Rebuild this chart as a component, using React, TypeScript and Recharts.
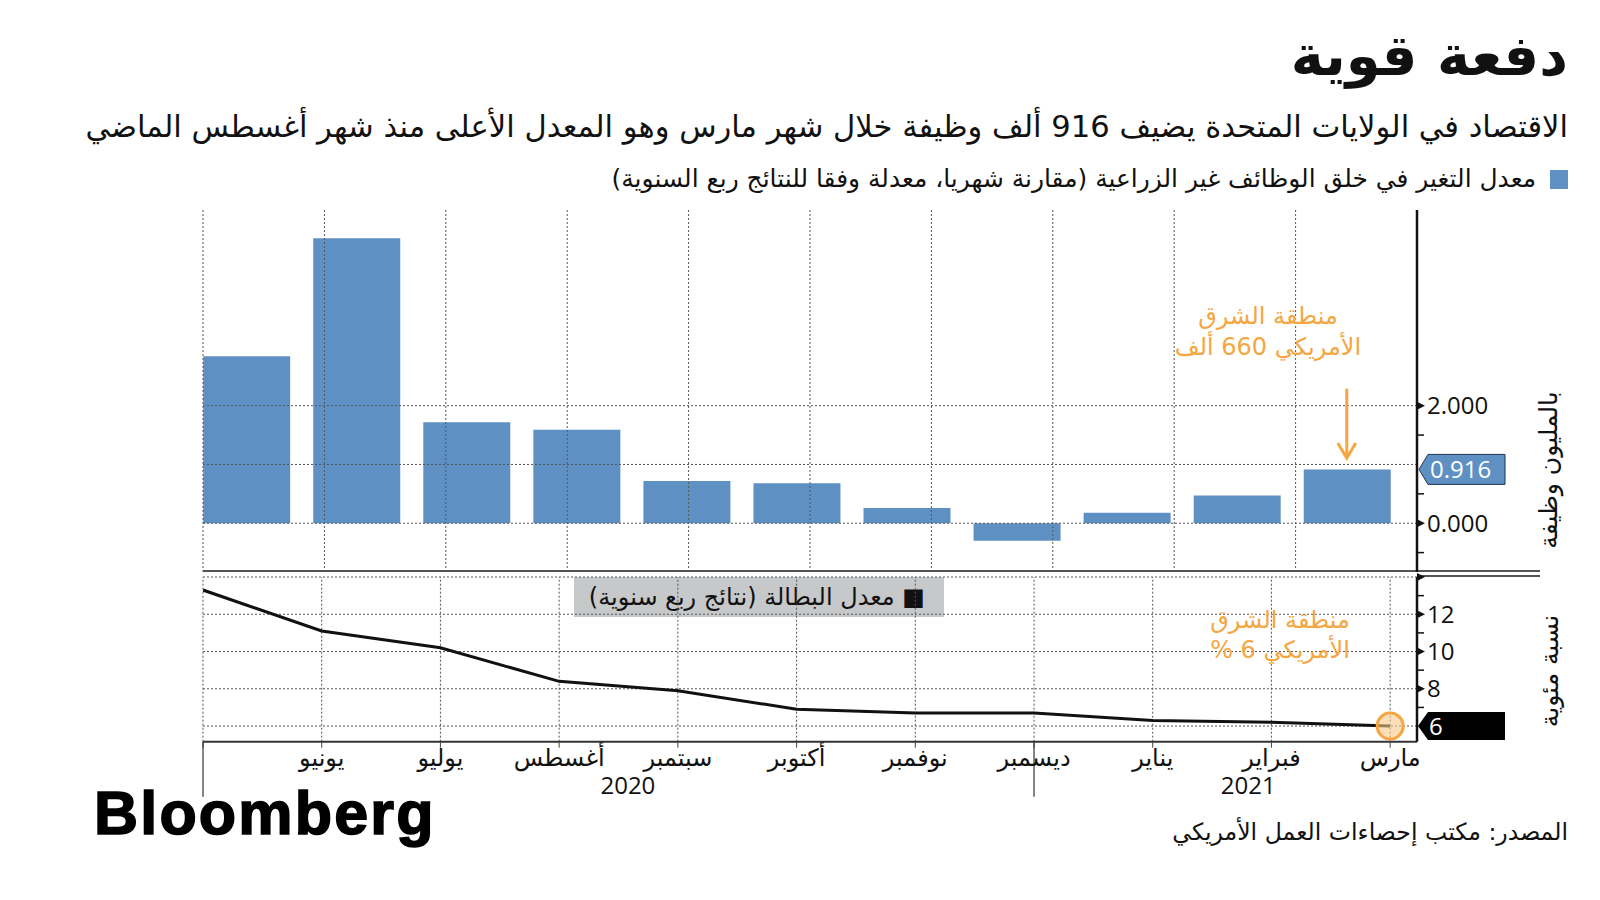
import React from 'react';
import {
  BarChart,
  Bar,
  LineChart,
  Line,
  XAxis,
  YAxis,
  ReferenceLine,
  ReferenceDot,
} from 'recharts';

// monthly data, May 2020 -> March 2021
const months = ['مايو', 'يونيو', 'يوليو', 'أغسطس', 'سبتمبر', 'أكتوبر', 'نوفمبر', 'ديسمبر', 'يناير', 'فبراير', 'مارس'];
const monthLabels = ['', 'يونيو', 'يوليو', 'أغسطس', 'سبتمبر', 'أكتوبر', 'نوفمبر', 'ديسمبر', 'يناير', 'فبراير', 'مارس'];
const monthIdx = [0, 1, 2, 3, 4, 5, 6, 7, 8, 9, 10];

// nonfarm payrolls change, millions
const payrolls = [2.84, 4.85, 1.72, 1.59, 0.72, 0.68, 0.26, -0.3, 0.18, 0.47, 0.916];
// unemployment rate, %
const unemployment = [13.3, 11.1, 10.2, 8.4, 7.9, 6.9, 6.7, 6.7, 6.3, 6.2, 6.0];

const payrollTicks = [-0.5, 0, 0.5, 0.916, 1.5, 2];
const payrollLabelled = [0, 2];
const payrollGrid = [0, 1, 2];
const rateTicks = [6, 7, 8, 9, 10, 11, 12, 13, 14];
const rateLabelled = [8, 10, 12];
const rateGrid = [6, 8, 10, 12, 14];

const yearStarts = [0, 7];
const years = ['2020', '2021'];
const yearCenters = [3.5, 8.61];

const BLUE = '#5f90c4';
const ORANGE = '#f5a640';
const AR = "'DejaVu Sans', sans-serif";
const NUM = "'Open Sans', 'DejaVu Sans', sans-serif";

const barData = payrolls.map((v, i) => ({ i, month: months[i], v }));
const lineData = unemployment.map((rate, m) => ({ m, rate, month: months[m] }));
const lastPayroll = payrolls[payrolls.length - 1];
const lastRate = unemployment[unemployment.length - 1];

const PayrollTick = (props: any) => {
  const { x, y, payload } = props;
  const v = payload.value;
  if (v === lastPayroll) {
    return (
      <g>
        <polygon
          points={`${x + 2},${y} ${x + 11},${y - 15} ${x + 88},${y - 15} ${x + 88},${y + 15} ${x + 11},${y + 15}`}
          fill={BLUE}
          stroke="#1d3550"
          strokeWidth={1}
        />
        <text x={x + 13} y={y} dy="0.36em" fill="#fff" fontFamily={NUM} fontSize={24}>
          {v.toFixed(3)}
        </text>
      </g>
    );
  }
  if (payrollLabelled.includes(v)) {
    return (
      <g>
        <polygon points={`${x},${y - 4} ${x + 8},${y} ${x},${y + 4}`} fill="#111" />
        <text x={x + 10} y={y} dy="0.36em" fill="#111" fontFamily={NUM} fontSize={24}>
          {v.toFixed(3)}
        </text>
      </g>
    );
  }
  return <line x1={x} x2={x + 7} y1={y} y2={y} stroke="#111" strokeWidth={1.5} />;
};

const RateTick = (props: any) => {
  const { x, y, payload } = props;
  const v = payload.value;
  if (v === lastRate) {
    return (
      <g>
        <polygon
          points={`${x + 1},${y} ${x + 11},${y - 14} ${x + 88},${y - 14} ${x + 88},${y + 14} ${x + 11},${y + 14}`}
          fill="#000"
        />
        <text x={x + 12} y={y} dy="0.36em" fill="#fff" fontFamily={NUM} fontSize={24}>
          {v}
        </text>
      </g>
    );
  }
  if (rateLabelled.includes(v) || v === 14) {
    return (
      <g>
        <polygon points={`${x},${y - 4} ${x + 8},${y} ${x},${y + 4}`} fill="#111" />
        {rateLabelled.includes(v) && (
          <text x={x + 10} y={y} dy="0.36em" fill="#111" fontFamily={NUM} fontSize={24}>
            {v}
          </text>
        )}
      </g>
    );
  }
  return <line x1={x} x2={x + 7} y1={y} y2={y} stroke="#111" strokeWidth={1.5} />;
};

const MonthTick = (props: any) => {
  const { x, y, payload } = props;
  const i = payload.value;
  return (
    <g>
      {yearStarts.includes(i) && (
        <line x1={x} x2={x} y1={y - 8} y2={y + 47} stroke="#333" strokeWidth={1.2} />
      )}
      <text x={x} y={y + 16} textAnchor="middle" fill="#111" fontFamily={AR} fontSize={24}>
        {monthLabels[i]}
      </text>
    </g>
  );
};

const YearTick = (props: any) => {
  const { x, y, index } = props;
  return (
    <text x={x} y={y + 12} textAnchor="middle" fill="#111" fontFamily={NUM} fontSize={24}>
      {years[index]}
    </text>
  );
};

const DownArrow = (props: any) => {
  const { x1, y1, x2, y2 } = props;
  return (
    <g>
      <line x1={x1} y1={y1} x2={x2} y2={y2 - 2} stroke={ORANGE} strokeWidth={3} />
      <polyline
        points={`${x2 - 9},${y2 - 15} ${x2},${y2} ${x2 + 9},${y2 - 15}`}
        fill="none"
        stroke={ORANGE}
        strokeWidth={3}
      />
    </g>
  );
};

const abs = (style: React.CSSProperties): React.CSSProperties => ({ position: 'absolute', ...style });

const App: React.FC = () => {
  return (
    <div style={abs({ left: 0, top: 0, width: 1600, height: 900, background: '#fff', overflow: 'hidden' })}>
      {/* headings */}
      <div
        style={abs({
          right: 32, top: 20, direction: 'rtl', fontFamily: AR, fontWeight: 700,
          fontSize: 56, lineHeight: '72px', color: '#111', whiteSpace: 'nowrap',
        })}
      >
        دفعة قوية
      </div>
      <div
        style={abs({
          right: 32, top: 106, direction: 'rtl', fontFamily: AR, fontSize: 30.6,
          lineHeight: '42px', color: '#111', whiteSpace: 'nowrap',
        })}
      >
        الاقتصاد في الولايات المتحدة يضيف 916 ألف وظيفة خلال شهر مارس وهو المعدل الأعلى منذ شهر أغسطس الماضي
      </div>
      <div style={abs({ left: 1550, top: 170, width: 18, height: 19, background: BLUE })} />
      <div
        style={abs({
          right: 64, top: 163, direction: 'rtl', fontFamily: AR, fontSize: 24.9,
          lineHeight: '32px', color: '#111', whiteSpace: 'nowrap',
        })}
      >
        معدل التغير في خلق الوظائف غير الزراعية (مقارنة شهريا، معدلة وفقا للنتائج ربع السنوية)
      </div>

      {/* panel separators */}
      <div style={abs({ left: 203, top: 570, width: 1337, height: 2, background: '#555' })} />
      <div style={abs({ left: 1417, top: 575, width: 123, height: 1.5, background: '#555' })} />

      {/* unemployment legend box (sits under the gridlines) */}
      <div
        style={abs({
          left: 574, top: 577, width: 370, height: 40, background: '#c6c8ca', direction: 'rtl',
          boxSizing: 'border-box', paddingRight: 19, fontFamily: AR, fontSize: 24,
          lineHeight: '40px', color: '#111', whiteSpace: 'nowrap',
        })}
      >
        ■ معدل البطالة (نتائج ربع سنوية)
      </div>

      {/* payrolls panel */}
      <div style={abs({ left: 0, top: 0 })}>
        <BarChart
          width={1600}
          height={572}
          data={barData}
          margin={{ top: 210, right: 103, left: 203, bottom: 0 }}
        >
          <XAxis xAxisId="bar" dataKey="i" type="number" domain={[-0.3925, 10.638]} allowDataOverflow hide />
          <XAxis xAxisId="m" type="number" domain={[0, 10.226]} allowDataOverflow hide />
          <YAxis
            orientation="right"
            width={80}
            type="number"
            domain={[-0.83, 5.33]}
            allowDataOverflow
            ticks={payrollTicks}
            interval={0}
            axisLine={{ stroke: '#111', strokeWidth: 2.5 }}
            tickLine={false}
            tickSize={0}
            tickMargin={0}
            tick={(p: any) => <PayrollTick {...p} />}
          />
          {monthIdx.map((m) => (
            <ReferenceLine key={`v${m}`} xAxisId="m" x={m} stroke="#555" strokeDasharray="2 2" />
          ))}
          {payrollGrid.map((g) => (
            <ReferenceLine key={`h${g}`} xAxisId="bar" y={g} stroke="#555" strokeDasharray="2 2" />
          ))}
          <Bar xAxisId="bar" dataKey="v" fill={BLUE} barSize={87} isAnimationActive={false} />
          <ReferenceLine
            xAxisId="bar"
            segment={[{ x: 10, y: 2.29 }, { x: 10, y: 1.11 }]}
            shape={(p: any) => <DownArrow {...p} />}
          />
        </BarChart>
      </div>

      {/* unemployment panel */}
      <div style={abs({ left: 0, top: 0 })}>
        <LineChart
          width={1600}
          height={900}
          data={lineData}
          margin={{ top: 577, right: 103, left: 203, bottom: 78.3 }}
        >
          <XAxis
            dataKey="m"
            type="number"
            domain={[0, 10.226]}
            allowDataOverflow
            ticks={monthIdx}
            interval={0}
            height={40}
            axisLine={{ stroke: '#333', strokeWidth: 2 }}
            tickLine={{ stroke: '#444' }}
            tickSize={6}
            tick={(p: any) => <MonthTick {...p} />}
          />
          <XAxis
            xAxisId="yr"
            type="number"
            domain={[0, 10.226]}
            allowDataOverflow
            ticks={yearCenters}
            interval={0}
            height={40}
            axisLine={false}
            tickLine={false}
            tickSize={0}
            tickMargin={0}
            tick={(p: any) => <YearTick {...p} />}
          />
          <YAxis
            orientation="right"
            width={80}
            type="number"
            domain={[5.16, 14]}
            allowDataOverflow
            ticks={rateTicks}
            interval={0}
            axisLine={{ stroke: '#111', strokeWidth: 2.5 }}
            tickLine={false}
            tickSize={0}
            tickMargin={0}
            tick={(p: any) => <RateTick {...p} />}
          />
          {monthIdx.map((m) => (
            <ReferenceLine key={`v${m}`} x={m} stroke="#555" strokeDasharray="2 2" />
          ))}
          {rateGrid.map((g) => (
            <ReferenceLine key={`h${g}`} y={g} stroke="#555" strokeDasharray="2 2" />
          ))}
          <Line
            type="linear"
            dataKey="rate"
            stroke="#111"
            strokeWidth={3}
            dot={false}
            isAnimationActive={false}
          />
          <ReferenceDot
            x={10}
            y={lastRate}
            r={13}
            fill="#f8c98a"
            fillOpacity={0.6}
            stroke={ORANGE}
            strokeWidth={3}
          />
        </LineChart>
      </div>

      {/* annotations */}
      <div
        style={abs({
          left: 1118, top: 301, width: 300, textAlign: 'center', direction: 'rtl', fontFamily: AR,
          fontSize: 24, lineHeight: '31px', color: ORANGE,
        })}
      >
        منطقة الشرق
        <br />
        الأمريكي 660 ألف
      </div>
      <div
        style={abs({
          left: 1130, top: 605, width: 300, textAlign: 'center', direction: 'rtl', fontFamily: AR,
          fontSize: 24, lineHeight: '30px', color: ORANGE,
        })}
      >
        منطقة الشرق
        <br />
        الأمريكي 6 %
      </div>

      {/* axis titles */}
      <div
        style={abs({
          left: 1449, top: 455, width: 200, height: 30, textAlign: 'center', direction: 'rtl',
          fontFamily: AR, fontSize: 25, lineHeight: '30px', color: '#111', transform: 'rotate(-90deg)',
          whiteSpace: 'nowrap',
        })}
      >
        بالمليون وظيفة
      </div>
      <div
        style={abs({
          left: 1450, top: 656, width: 200, height: 30, textAlign: 'center', direction: 'rtl',
          fontFamily: AR, fontSize: 25, lineHeight: '30px', color: '#111', transform: 'rotate(-90deg)',
          whiteSpace: 'nowrap',
        })}
      >
        نسبة مئوية
      </div>

      {/* footer */}
      <div
        style={abs({
          left: 94, top: 778, fontFamily: "'Liberation Sans', Arial, sans-serif", fontWeight: 700,
          fontSize: 61, lineHeight: '70px', letterSpacing: 2.2, color: '#000',
          WebkitTextStroke: '1.6px #000',
        })}
      >
        Bloomberg
      </div>
      <div
        style={abs({
          right: 32, top: 817, direction: 'rtl', fontFamily: AR, fontSize: 23.6, lineHeight: '30px',
          color: '#111', whiteSpace: 'nowrap',
        })}
      >
        المصدر: مكتب إحصاءات العمل الأمريكي
      </div>
    </div>
  );
};

export default App;
